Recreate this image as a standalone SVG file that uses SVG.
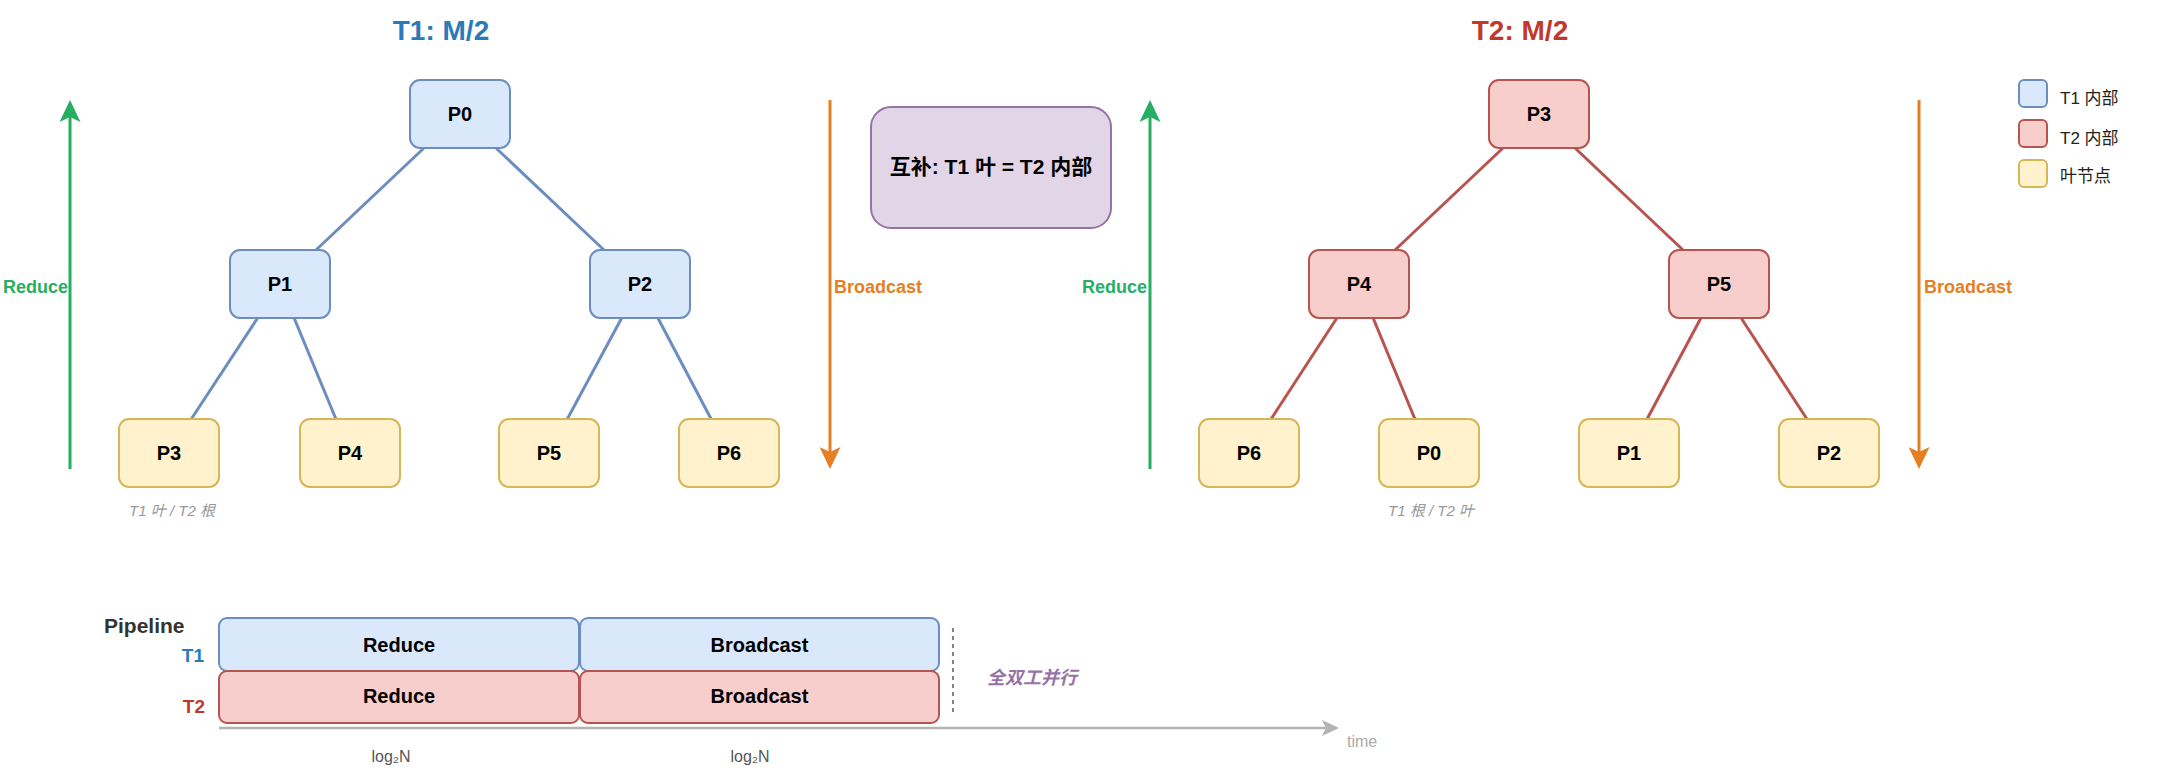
<svg xmlns="http://www.w3.org/2000/svg" width="2178" height="770" viewBox="0 0 2178 770">
<style>
text { font-family: "Liberation Sans", Arial, "Noto Sans CJK SC", sans-serif; }
.t1 { fill: #dae8fc; stroke: #6c8ebf; stroke-width: 2; }
.t2 { fill: #f8cecc; stroke: #b85450; stroke-width: 2; }
.leaf { fill: #fff2cc; stroke: #d6b656; stroke-width: 2; }
.nl { font-size: 20px; font-weight: bold; fill: #000; text-anchor: middle; }
.e1 { stroke: #6c8ebf; stroke-width: 3; fill: none; }
.e2 { stroke: #b85450; stroke-width: 3; fill: none; }
.green { stroke: #27ae60; stroke-width: 3; fill: none; }
.orange { stroke: #e67e22; stroke-width: 3; fill: none; }
.side { font-size: 18px; font-weight: bold; }
.cap { font-size: 15px; font-style: italic; fill: #999; text-anchor: middle; }
.leg { font-size: 17px; fill: #222; }
.bar { font-size: 20px; font-weight: bold; fill: #000; text-anchor: middle; }
.log { font-size: 16px; fill: #555; text-anchor: middle; }
</style>
<defs>
<marker id="ag" viewBox="0 0 22 21" refX="5" refY="10.5" markerWidth="22" markerHeight="21" markerUnits="userSpaceOnUse" orient="auto">
<path d="M0,0 L22,10.5 L0,21 L5,10.5 Z" fill="#27ae60"/>
</marker>
<marker id="ao" viewBox="0 0 22 21" refX="5" refY="10.5" markerWidth="22" markerHeight="21" markerUnits="userSpaceOnUse" orient="auto">
<path d="M0,0 L22,10.5 L0,21 L5,10.5 Z" fill="#e67e22"/>
</marker>
<marker id="ay" viewBox="0 0 17 16" refX="4" refY="8" markerWidth="17" markerHeight="16" markerUnits="userSpaceOnUse" orient="auto">
<path d="M0,0 L17,8 L0,16 L4,8 Z" fill="#b3b3b3"/>
</marker>
</defs>
<rect width="2178" height="770" fill="#ffffff"/>

<!-- titles -->
<text x="441" y="40" font-size="28" font-weight="bold" fill="#2a7ab8" text-anchor="middle">T1: M/2</text>
<text x="1520" y="40" font-size="28" font-weight="bold" fill="#c0392b" text-anchor="middle">T2: M/2</text>

<g id="connectors">
<!-- T1 tree -->
<line class="e1" x1="424" y1="148" x2="316" y2="250"/>
<line class="e1" x1="496" y1="148" x2="604" y2="250"/>
<line class="e1" x1="257.7" y1="318" x2="191.3" y2="419"/>
<line class="e1" x1="294.1" y1="318" x2="335.9" y2="419"/>
<line class="e1" x1="621.7" y1="318" x2="567.3" y2="419"/>
<line class="e1" x1="657.9" y1="318" x2="711.1" y2="419"/>
<!-- T2 tree -->
<line class="e2" x1="1503" y1="148" x2="1395" y2="250"/>
<line class="e2" x1="1575" y1="148" x2="1683" y2="250"/>
<line class="e2" x1="1336.9" y1="318" x2="1271.1" y2="419"/>
<line class="e2" x1="1373.1" y1="318" x2="1414.9" y2="419"/>
<line class="e2" x1="1700.9" y1="318" x2="1647.1" y2="419"/>
<line class="e2" x1="1741.1" y1="318" x2="1806.9" y2="419"/>
<!-- phase arrows -->
<line class="green" x1="70" y1="469" x2="70" y2="117" marker-end="url(#ag)"/>
<line class="orange" x1="830" y1="100" x2="830" y2="452" marker-end="url(#ao)"/>
<line class="green" x1="1150" y1="469" x2="1150" y2="117" marker-end="url(#ag)"/>
<line class="orange" x1="1919" y1="100" x2="1919" y2="452" marker-end="url(#ao)"/>
<!-- time axis -->
<line x1="219" y1="728" x2="1326" y2="728" stroke="#b3b3b3" stroke-width="2.5" marker-end="url(#ay)"/>
<!-- full duplex divider -->
<line x1="953" y1="628" x2="953" y2="715" stroke="#9673a6" stroke-width="2" stroke-dasharray="4 4"/>
</g>

<!-- phase labels -->
<text class="side" x="68" y="293" fill="#27ae60" text-anchor="end">Reduce</text>
<text class="side" x="834" y="293" fill="#e67e22">Broadcast</text>
<text class="side" x="1147" y="293" fill="#27ae60" text-anchor="end">Reduce</text>
<text class="side" x="1924" y="293" fill="#e67e22">Broadcast</text>

<!-- T1 tree nodes -->
<g id="t1-p0"><rect class="t1" x="410" y="80" width="100" height="68" rx="10"/><text class="nl" x="460" y="121">P0</text></g>
<g id="t1-p1"><rect class="t1" x="230" y="250" width="100" height="68" rx="10"/><text class="nl" x="280" y="291">P1</text></g>
<g id="t1-p2"><rect class="t1" x="590" y="250" width="100" height="68" rx="10"/><text class="nl" x="640" y="291">P2</text></g>
<g id="t1-p3"><rect class="leaf" x="119" y="419" width="100" height="68" rx="10"/><text class="nl" x="169" y="460">P3</text></g>
<g id="t1-p4"><rect class="leaf" x="300" y="419" width="100" height="68" rx="10"/><text class="nl" x="350" y="460">P4</text></g>
<g id="t1-p5"><rect class="leaf" x="499" y="419" width="100" height="68" rx="10"/><text class="nl" x="549" y="460">P5</text></g>
<g id="t1-p6"><rect class="leaf" x="679" y="419" width="100" height="68" rx="10"/><text class="nl" x="729" y="460">P6</text></g>
<text class="cap" x="172" y="516">T1 叶 / T2 根</text>

<!-- complement note -->
<g id="note">
<rect x="871" y="107" width="240" height="121" rx="20" fill="#e1d5e7" stroke="#9673a6" stroke-width="2"/>
<text x="991" y="174" font-size="21" font-weight="bold" fill="#000" text-anchor="middle">互补: T1 叶 = T2 内部</text>
</g>

<!-- T2 tree nodes -->
<g id="t2-p3"><rect class="t2" x="1489" y="80" width="100" height="68" rx="10"/><text class="nl" x="1539" y="121">P3</text></g>
<g id="t2-p4"><rect class="t2" x="1309" y="250" width="100" height="68" rx="10"/><text class="nl" x="1359" y="291">P4</text></g>
<g id="t2-p5"><rect class="t2" x="1669" y="250" width="100" height="68" rx="10"/><text class="nl" x="1719" y="291">P5</text></g>
<g id="t2-p6"><rect class="leaf" x="1199" y="419" width="100" height="68" rx="10"/><text class="nl" x="1249" y="460">P6</text></g>
<g id="t2-p0"><rect class="leaf" x="1379" y="419" width="100" height="68" rx="10"/><text class="nl" x="1429" y="460">P0</text></g>
<g id="t2-p1"><rect class="leaf" x="1579" y="419" width="100" height="68" rx="10"/><text class="nl" x="1629" y="460">P1</text></g>
<g id="t2-p2"><rect class="leaf" x="1779" y="419" width="100" height="68" rx="10"/><text class="nl" x="1829" y="460">P2</text></g>
<text class="cap" x="1431" y="516">T1 根 / T2 叶</text>

<!-- legend -->
<g id="legend">
<rect class="t1" x="2019" y="80" width="28" height="27" rx="5"/>
<text class="leg" x="2060" y="104">T1 内部</text>
<rect class="t2" x="2019" y="120" width="28" height="27" rx="5"/>
<text class="leg" x="2060" y="144">T2 内部</text>
<rect class="leaf" x="2019" y="160" width="28" height="27" rx="5"/>
<text class="leg" x="2060" y="182">叶节点</text>
</g>

<!-- pipeline -->
<text x="104" y="633" font-size="21" font-weight="bold" fill="#333">Pipeline</text>
<text x="204" y="662" font-size="19" font-weight="bold" fill="#2a7ab8" text-anchor="end">T1</text>
<text x="205" y="713" font-size="19" font-weight="bold" fill="#c0392b" text-anchor="end">T2</text>
<g id="t1-reduce"><rect class="t1" x="219" y="618" width="360" height="53" rx="8"/><text class="bar" x="399" y="652">Reduce</text></g>
<g id="t1-broadcast"><rect class="t1" x="580" y="618" width="359" height="53" rx="8"/><text class="bar" x="759.5" y="652">Broadcast</text></g>
<g id="t2-reduce"><rect class="t2" x="219" y="671" width="360" height="52" rx="8"/><text class="bar" x="399" y="703">Reduce</text></g>
<g id="t2-broadcast"><rect class="t2" x="580" y="671" width="359" height="52" rx="8"/><text class="bar" x="759.5" y="703">Broadcast</text></g>
<text x="987" y="684" font-size="18" font-weight="bold" font-style="italic" fill="#9673a6">全双工并行</text>
<text x="1347" y="747" font-size="16" fill="#aaaaaa">time</text>
<text class="log" x="391" y="762">log₂N</text>
<text class="log" x="750" y="762">log₂N</text>
</svg>
